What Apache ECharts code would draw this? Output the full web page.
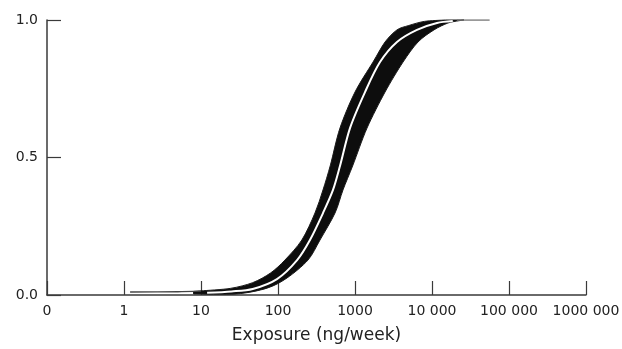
<!DOCTYPE html>
<html>
<head>
<meta charset="utf-8">
<script src="https://cdn.jsdelivr.net/npm/echarts@6/dist/echarts.min.js"></script>
<style>
  html, body { margin: 0; padding: 0; background: #fff; }
  #chart { width: 622px; height: 349px; }
</style>
</head>
<body>
<div id="chart"></div>
<script>
// Tick labels
const xTickLabels = ['0', '1', '10', '100', '1000', '10 000', '100 000', '1000 000'];
const yTickLabels = ['0.0', '0.5', '1.0'];
const xAxisTitle = 'Exposure (ng/week)';

// Upper (left) edge of the bootstrap band: exposure (ng/week) and cumulative probability
const upperExposure = [8, 10, 24, 47, 80, 123, 204, 302, 384, 480, 638, 1000, 1714, 2455, 3510, 5000, 8000, 15000];
const upperCdf      = [0.013, 0.015, 0.024, 0.045, 0.08, 0.127, 0.2, 0.298, 0.382, 0.473, 0.607, 0.738, 0.847, 0.92, 0.964, 0.98, 0.995, 1.0];

// Lower (right) edge of the bootstrap band
const lowerExposure = [8, 29, 72, 131, 245, 351, 550, 698, 942, 1432, 2455, 4200, 6580, 10600, 16100, 22000, 26000];
const lowerCdf      = [0.004, 0.004, 0.025, 0.062, 0.127, 0.2, 0.298, 0.382, 0.473, 0.607, 0.738, 0.847, 0.92, 0.964, 0.989, 0.997, 1.0];

// Central (white) curve
const medianExposure = [12, 25, 47, 97, 177, 260, 384, 518, 638, 861, 1349, 2113, 3510, 6380, 11600, 18600];
const medianCdf      = [0.008, 0.013, 0.022, 0.058, 0.127, 0.2, 0.298, 0.382, 0.469, 0.607, 0.738, 0.847, 0.92, 0.964, 0.989, 0.996];

// Faint tails of individual curves
const lowTailExposure = [1.2, 5, 10];
const lowTailCdf      = [0.011, 0.012, 0.014];
const topTailExposure = [21000, 56000];
const topTailCdf      = [1.0, 1.0];

const FONT = 'DejaVu Sans';
const AXIS_COLOR = '#3a3a3a';
const lg = v => Math.log10(v);
const pairs = (xs, ys) => xs.map((x, i) => [lg(x), ys[i]]);

const upperPts = pairs(upperExposure, upperCdf);
const lowerPts = pairs(lowerExposure, lowerCdf);

// Smooth path (Catmull-Rom -> cubic Bezier) through pixel points
function curveSegments(p, start) {
  let d = (start ? 'M' : 'L') + p[0][0].toFixed(2) + ' ' + p[0][1].toFixed(2);
  const t = 0.15;
  for (let i = 0; i < p.length - 1; i++) {
    const p0 = p[Math.max(0, i - 1)], p1 = p[i], p2 = p[i + 1], p3 = p[Math.min(p.length - 1, i + 2)];
    const c1x = p1[0] + (p2[0] - p0[0]) * t, c1y = p1[1] + (p2[1] - p0[1]) * t;
    const c2x = p2[0] - (p3[0] - p1[0]) * t, c2y = p2[1] - (p3[1] - p1[1]) * t;
    d += ' C' + c1x.toFixed(2) + ' ' + c1y.toFixed(2) + ' ' + c2x.toFixed(2) + ' ' + c2y.toFixed(2) + ' ' + p2[0].toFixed(2) + ' ' + p2[1].toFixed(2);
  }
  return d;
}

const chart = echarts.init(document.getElementById('chart'), null, { renderer: 'canvas' });
chart.setOption({
  animation: false,
  backgroundColor: '#ffffff',
  grid: { left: 47, right: 36, top: 20, bottom: 54, containLabel: false, outerBoundsMode: 'none' },
  xAxis: {
    type: 'value', min: -1, max: 6, interval: 1,
    axisLine: { show: true, onZero: false, lineStyle: { color: AXIS_COLOR, width: 1.5 } },
    axisTick: { show: true, inside: true, length: 14, lineStyle: { color: AXIS_COLOR, width: 1.2 } },
    axisLabel: {
      show: true, margin: 9, color: '#222', fontFamily: FONT, fontSize: 14,
      showMinLabel: true, showMaxLabel: true, hideOverlap: false,
      formatter: v => xTickLabels[Math.round(v) + 1]
    },
    splitLine: { show: false },
    name: xAxisTitle, nameLocation: 'middle', nameGap: 32,
    nameTextStyle: { color: '#222', fontFamily: FONT, fontSize: 17 }
  },
  yAxis: {
    type: 'value', min: 0, max: 1, interval: 0.5,
    axisLine: { show: true, onZero: false, lineStyle: { color: AXIS_COLOR, width: 1.5 } },
    axisTick: { show: true, inside: true, length: 14, lineStyle: { color: AXIS_COLOR, width: 1.2 } },
    axisLabel: {
      show: true, margin: 9, color: '#222', fontFamily: FONT, fontSize: 14,
      showMinLabel: true, showMaxLabel: true,
      formatter: v => yTickLabels[Math.round(v * 2)]
    },
    splitLine: { show: false }
  },
  series: [
    {
      type: 'custom',
      coordinateSystem: 'cartesian2d',
      data: [[upperPts[0][0], upperPts[0][1]]],
      clip: false,
      z: 3,
      renderItem: function (params, api) {
        const up = upperPts.map(p => api.coord(p));
        const lo = lowerPts.slice().reverse().map(p => api.coord(p));
        const d = curveSegments(up, true) + ' ' + curveSegments(lo, false) + ' Z';
        return {
          type: 'path',
          shape: { pathData: d },
          style: { fill: '#0d0d0d', stroke: '#1a1a1a', lineWidth: 1 }
        };
      }
    },
    {
      type: 'line', z: 4, symbol: 'none', smooth: 0.3,
      data: pairs(lowTailExposure, lowTailCdf),
      lineStyle: { color: '#444', width: 1.4 }
    },
    {
      type: 'line', z: 4, symbol: 'none',
      data: pairs(topTailExposure, topTailCdf),
      lineStyle: { color: '#777', width: 1.5 }
    },
    {
      type: 'line', z: 5, symbol: 'none', smooth: 0.3,
      data: pairs(medianExposure, medianCdf),
      lineStyle: { color: '#ffffff', width: 2 }
    }
  ]
});
</script>
</body>
</html>
